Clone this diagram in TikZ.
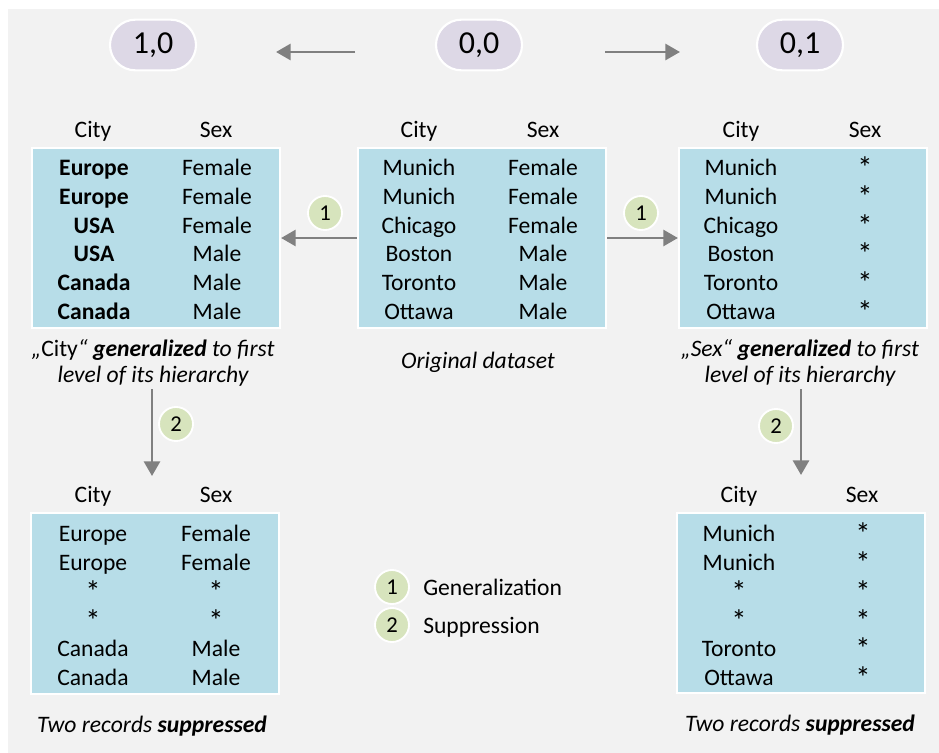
\documentclass[tikz,border=0pt]{standalone}
\usepackage{fontspec}
\setmainfont{Carlito}
\usetikzlibrary{arrows.meta}
\definecolor{bgc}{HTML}{F2F2F2}
\definecolor{tblc}{HTML}{B7DDE8}
\definecolor{pillc}{HTML}{DDD8E6}
\definecolor{badgec}{HTML}{D7E4BD}
\definecolor{arrc}{HTML}{808080}
\newcommand{\bigstar}{\raisebox{-2.25pt}{\fontsize{23}{23}\selectfont *}}
\tikzset{
  tbl/.style={draw=white, line width=1.6pt, fill=tblc, minimum width=186pt, minimum height=135.5pt, inner sep=0pt},
  pill/.style={draw=white, line width=1.6pt, fill=pillc, minimum width=64.5pt, minimum height=38pt, rounded corners=19pt, font=\fontsize{24}{28}\selectfont, inner sep=0pt},
  badge/.style={circle, draw=white, line width=1.4pt, fill=badgec, minimum size=25.5pt, inner sep=0pt, font=\fontsize{17}{19}\selectfont},
  cell/.style={font=\fontsize{17.7}{21}\selectfont, inner sep=0pt, text height=15pt, text depth=2pt},
  captext/.style={font=\fontsize{17.7}{19.5}\selectfont\itshape, align=center, inner sep=0pt},
  arr/.style={draw=arrc, line width=2.2pt, -{Triangle[length=11pt,width=12pt]}},
}
\begin{document}
\begin{tikzpicture}[x=0.75pt,y=-0.75pt]
\useasboundingbox (0,0) rectangle (939,753);
\fill[bgc] (8,9) rectangle (939,753);

% pills
\node[pill] (p10) at (153,45) {1,0};
\node[pill] (p00) at (479,45) {0,0};
\node[pill] (p01) at (800,45) {0,1};
\coordinate (ta1) at (355,52); \coordinate (ta2) at (276,52);
\coordinate (tb1) at (605,52); \coordinate (tb2) at (680,52);
\draw[arr] (ta1) -- (ta2);
\draw[arr] (tb1) -- (tb2);

% tables
\node[tbl] (tL) at (156,238) {};
\node[tbl] (tM) at (482,238) {};
\node[tbl] (tR) at (803,238) {};
\node[tbl] (tBL) at (155,603.5) {};
\node[tbl] (tBR) at (801,603) {};

% headers
\node[cell] (hL1) at (93,129) {City};
\node[cell] (hL2) at (216,129) {Sex};
\node[cell] (hM1) at (419,129) {City};
\node[cell] (hM2) at (543,129) {Sex};
\node[cell] (hR1) at (741,129) {City};
\node[cell] (hR2) at (865,129) {Sex};
\node[cell] (hBL1) at (93,494) {City};
\node[cell] (hBL2) at (216,494) {Sex};
\node[cell] (hBR1) at (739,494) {City};
\node[cell] (hBR2) at (862,494) {Sex};

% left table
\foreach \c/\s [count=\i from 0] in {Europe/Female,Europe/Female,USA/Female,USA/Male,Canada/Male,Canada/Male}{
  \node[cell] (cL\i) at (94,{167+28.7*\i}) {\textbf{\c}};
  \node[cell] (sL\i) at (217,{167+28.7*\i}) {\s};
}
% middle table
\foreach \c/\s [count=\i from 0] in {Munich/Female,Munich/Female,Chicago/Female,Boston/Male,Toronto/Male,Ottawa/Male}{
  \node[cell] (cM\i) at (419,{167+28.7*\i}) {\c};
  \node[cell] (sM\i) at (543,{167+28.7*\i}) {\s};
}
% right table
\foreach \c [count=\i from 0] in {Munich,Munich,Chicago,Boston,Toronto,Ottawa}{
  \node[cell] (cR\i) at (741,{167+28.7*\i}) {\c};
  \node[cell] (sR\i) at (865,{167+28.7*\i}) {\bigstar};
}
% bottom left table
\foreach \c/\s [count=\i from 0] in {Europe/Female,Europe/Female,\bigstar/\bigstar,\bigstar/\bigstar,Canada/Male,Canada/Male}{
  \node[cell] (cBL\i) at (93,{533+28.8*\i}) {\c};
  \node[cell] (sBL\i) at (216,{533+28.8*\i}) {\s};
}
% bottom right table
\foreach \c [count=\i from 0] in {Munich,Munich,\bigstar,\bigstar,Toronto,Ottawa}{
  \node[cell] (cBR\i) at (739,{533+28.8*\i}) {\c};
  \node[cell] (sBR\i) at (863,{533+28.8*\i}) {\bigstar};
}

% captions
\node[captext] (capL) at (153,363) {„{\upshape City}“ \textbf{generalized} to first\\level of its hierarchy};
\node[captext] (capM) at (478,362) {Original dataset};
\node[captext] (capR) at (800,363) {„Sex“ \textbf{generalized} to first\\level of its hierarchy};
\node[captext] (capBL) at (152,726) {Two records \textbf{suppressed}};
\node[captext] (capBR) at (800,725) {Two records \textbf{suppressed}};

% middle arrows
\draw[arr] (tM.west) -- (tL.east);
\draw[arr] (tM.east) -- (tR.west);
\node[badge] (b1L) at (325,213) {1};
\node[badge] (b1R) at (641,213) {1};

% vertical arrows
\coordinate (vL1) at (152,389); \coordinate (vL2) at (152,476);
\coordinate (vR1) at (801,389); \coordinate (vR2) at (801,475);
\draw[arr] (vL1) -- (vL2);
\draw[arr] (vR1) -- (vR2);
\node[badge] (b2L) at (176,424) {2};
\node[badge] (b2R) at (776,426) {2};

% legend
\node[badge] (lg1) at (392,587) {1};
\node[badge] (lg2) at (392,625) {2};
\node[cell, anchor=west] (lt1) at (423,587) {Generalization};
\node[cell, anchor=west] (lt2) at (423,625) {Suppression};
\end{tikzpicture}
\end{document}
